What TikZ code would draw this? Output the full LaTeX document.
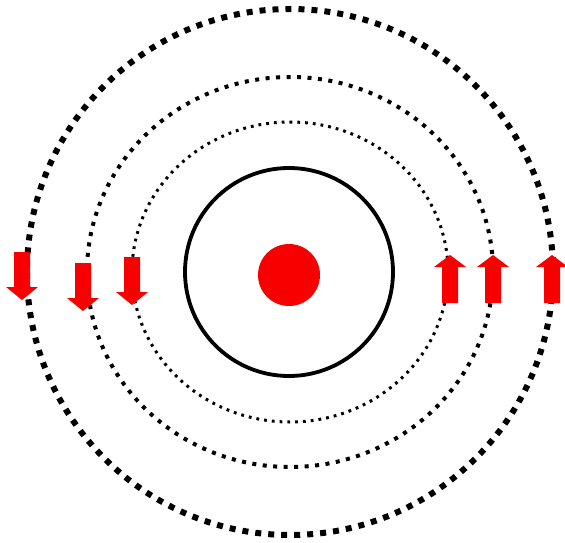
\documentclass[tikz,border=0pt]{standalone}
\usepackage{tikz}

\definecolor{spinred}{RGB}{248,0,0}

\begin{document}
\begin{tikzpicture}[x=1pt, y=-1pt,
  orbit/.style={draw=black, line cap=butt},
  spin down/.pic={\fill[spinred] (-8,-24) -- (8,-24) -- (8,11) -- (16,11)
      -- (0,24) -- (-16,11) -- (-8,11) -- cycle;},
  spin up/.pic={\fill[spinred] (-8,24) -- (8,24) -- (8,-12) -- (16,-12)
      -- (0,-24) -- (-16,-12) -- (-8,-12) -- cycle;}]
\useasboundingbox (0,0) rectangle (565,543);
\coordinate (core) at (289,272);
% shells, from outside in
\draw[orbit, line width=6pt, dash pattern=on 6pt off 7pt] (290,272) ellipse [x radius=263, y radius=263];
\draw[orbit, line width=4pt, dash pattern=on 4pt off 6.5pt] (290,272) ellipse [x radius=203, y radius=195];
\draw[orbit, line width=3pt, dash pattern=on 2.8pt off 5pt] (290,272) ellipse [x radius=158, y radius=150];
\draw[line width=3.8pt] (core) circle [radius=104];
\fill[spinred] (289,275) circle [radius=31];
% spins
\pic at (22,276) {spin down};
\pic at (83,287) {spin down};
\pic at (132,281) {spin down};
\pic at (450,279) {spin up};
\pic at (493,279) {spin up};
\pic at (552,279) {spin up};
\end{tikzpicture}
\end{document}
